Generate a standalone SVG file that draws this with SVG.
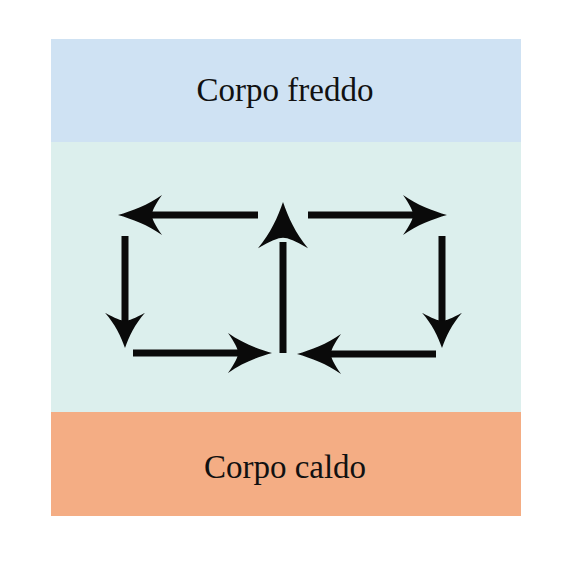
<svg xmlns="http://www.w3.org/2000/svg" width="567" height="567" viewBox="0 0 567 567">
<style>
.lbl{font-family:"Liberation Serif","Times New Roman",serif;font-size:33px;fill:#111;text-anchor:middle}
.shaft{stroke:#0a0a0a;stroke-width:7;fill:none}
.head{fill:#0a0a0a}
</style>
<defs>
<path id="ah" d="M0,0 C-14,-4 -30,-10 -44,-20 C-37,-10 -34,-4 -34,0 C-34,4 -37,10 -44,20 C-30,10 -14,4 0,0 Z"/>
</defs>
<rect x="0" y="0" width="567" height="567" fill="#ffffff"/>
<g id="middle">
<rect x="51" y="142" width="470" height="270" fill="#dcefed"/>
</g>
<g id="cold">
<rect x="51" y="39" width="470" height="103" fill="#cfe2f3"/>
<text class="lbl" x="285" y="101">Corpo freddo</text>
</g>
<g id="hot">
<rect x="51" y="412" width="470" height="104" fill="#f4ad84"/>
<text class="lbl" x="285" y="478">Corpo caldo</text>
</g>
<g id="connectors">
<line class="shaft" x1="258" y1="215" x2="150" y2="215"/>
<use href="#ah" class="head" transform="translate(118,215) rotate(180)"/>
<line class="shaft" x1="125" y1="236" x2="125" y2="325"/>
<use href="#ah" class="head" transform="translate(125,348) rotate(90) scale(0.8,1)"/>
<line class="shaft" x1="133" y1="353" x2="240" y2="353"/>
<use href="#ah" class="head" transform="translate(272,353)"/>
<line class="shaft" x1="283" y1="353" x2="283" y2="242"/>
<use href="#ah" class="head" transform="translate(283,202) rotate(-90) scale(1.05,1.25)"/>
<line class="shaft" x1="308" y1="215" x2="415" y2="215"/>
<use href="#ah" class="head" transform="translate(447,215)"/>
<line class="shaft" x1="442" y1="236" x2="442" y2="325"/>
<use href="#ah" class="head" transform="translate(442,348) rotate(90) scale(0.8,1)"/>
<line class="shaft" x1="436" y1="354" x2="330" y2="354"/>
<use href="#ah" class="head" transform="translate(297,354) rotate(180)"/>
</g>
</svg>
